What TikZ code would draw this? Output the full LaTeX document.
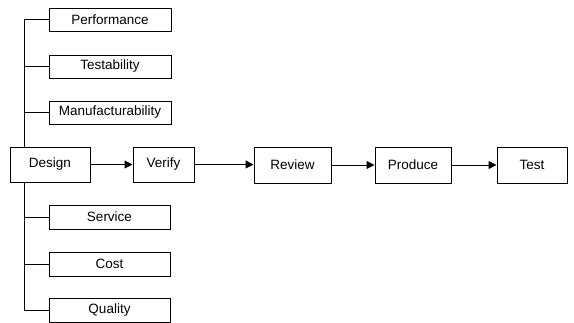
\documentclass[tikz,border=0pt]{standalone}
\usepackage{fontspec}
\setmainfont{Liberation Sans}
\usetikzlibrary{arrows.meta}
\begin{document}
\begin{tikzpicture}[x=1pt,y=-1pt,
  box/.style={draw,line width=1pt,inner sep=0pt,font=\fontsize{13.5}{15}\selectfont},
  conn/.style={line width=1pt},
  arr/.style={line width=1pt,-{Triangle[length=8pt,width=8pt]}}]
\useasboundingbox (0,0) rectangle (574,322);
% left column
\node[box,minimum width=122pt,minimum height=23pt] (perf) at (110,19.5) {Performance};
\node[box,minimum width=122pt,minimum height=23pt] (test) at (110,66.5) {Testability};
\node[box,minimum width=122pt,minimum height=23pt] (manu) at (110,112.5) {Manufacturability};
\node[box,minimum width=121pt,minimum height=24pt] (serv) at (109.5,217) {Service};
\node[box,minimum width=121pt,minimum height=24pt] (cost) at (109.5,264) {Cost};
\node[box,minimum width=121pt,minimum height=24pt] (qual) at (109.5,310) {Quality};
% main flow
\node[box,minimum width=80pt,minimum height=35pt] (des) at (50,164.5) {Design};
\node[box,minimum width=61pt,minimum height=35pt] (ver) at (163.5,164.5) {Verify};
\node[box,minimum width=77pt,minimum height=36pt] (rev) at (292.5,165) {Review};
\node[box,minimum width=76pt,minimum height=36pt] (pro) at (413,165) {Produce};
\node[box,minimum width=70pt,minimum height=36pt] (tst) at (532,165) {Test};
% trunk
\coordinate (top) at (24,19.5);
\coordinate (bot) at (24,310);
\coordinate (dt) at (24,147);
\coordinate (db) at (24,182);
\draw[conn] (dt) -- (top) -- (perf.west);
\draw[conn] (test.west) -- (test.west -| top);
\draw[conn] (manu.west) -- (manu.west -| top);
\draw[conn] (db) -- (bot) -- (qual.west);
\draw[conn] (serv.west) -- (serv.west -| top);
\draw[conn] (cost.west) -- (cost.west -| top);
% arrows
\draw[arr] (des) -- (ver);
\draw[arr] (ver.east) -- (rev.west |- ver.east);
\draw[arr] (rev) -- (pro);
\draw[arr] (pro) -- (tst);
\end{tikzpicture}
\end{document}
